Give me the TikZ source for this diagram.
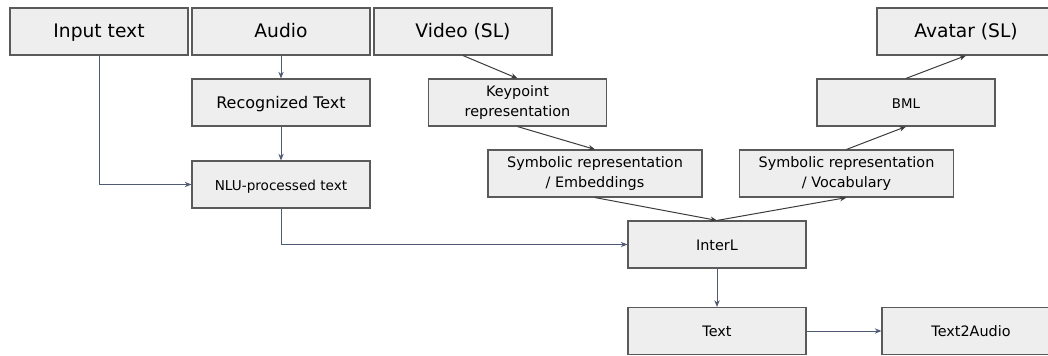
\documentclass[tikz,border=0pt]{standalone}
\usepackage{fontspec}
\setmainfont{DejaVu Sans}
\usetikzlibrary{arrows.meta}
\definecolor{boxfill}{HTML}{EEEEEE}
\definecolor{boxline}{HTML}{5A5A5A}
\definecolor{linkblue}{HTML}{4F5B75}
\definecolor{linkgray}{HTML}{3C3C3C}
\begin{document}
\begin{tikzpicture}[x=0.75pt,y=-0.75pt]
            \tikzset{b/.style={draw=boxline,fill=boxfill,line width=0.85pt,rectangle,minimum width=133.5pt,minimum height=35.25pt,inner sep=0pt,align=center,font=\fontsize{10.8}{15}\selectfont},
                l/.style={text height=1.8ex,text depth=.27ex},
                big/.style={b,l,font=\fontsize{14}{17}\selectfont},
                wide/.style={b,minimum width=160.5pt},
                a/.style={-{Stealth[length=5pt,width=4pt]},line width=0.75pt}}
            \useasboundingbox(0,0)rectangle(1048,356);
            % top row
            \path(99,31.5)node[big](in){Input text}(281,31.5)node[big](au){Audio}(463,31.5)node[big](vi){Video (SL)}(966,31.5)node[big](av){Avatar (SL)};
            % audio branch
            \path(281,102.5)node[b,l,font=\fontsize{12}{15}\selectfont](rt){Recognized Text}(281,184.5)node[b,l,font=\fontsize{10.2}{13}\selectfont](nlu){NLU-processed text};
            % sign language branches
            \path(517.5,102.5)node[b](kp){Keypoint\\representation}(595,173.5)node[wide](se){Symbolic representation\\/ Embeddings};
            \path(906,102.5)node[b,l,font=\fontsize{10}{13}\selectfont](bml){BML}(846.5,173.5)node[wide](sv){Symbolic representation\\/ Vocabulary};
            % centre and output
            \path(717,244.5)node[b,l](il){InterL}(717,331)node[b,l](tx){Text}(971,331)node[b,l](ta){Text2Audio};
            \foreach \x/\y in {au/rt,rt/nlu,il/tx}
            \draw[a,linkblue](\x.south)--(\y.north);
            \draw[a,linkblue](tx.east)--(ta.west);
            \draw[a,linkblue](in.south)|-(nlu.west);
            \draw[a,linkblue](nlu.south)|-(il.west);
            \foreach \x/\y in {vi/kp,kp/se,se/il}
            \draw[a,linkgray](\x.south)--(\y.north);
            \foreach \x/\y in {il/sv,sv/bml,bml/av}
            \draw[a,linkgray](\x.north)--(\y.south);
\end{tikzpicture}
\end{document}
